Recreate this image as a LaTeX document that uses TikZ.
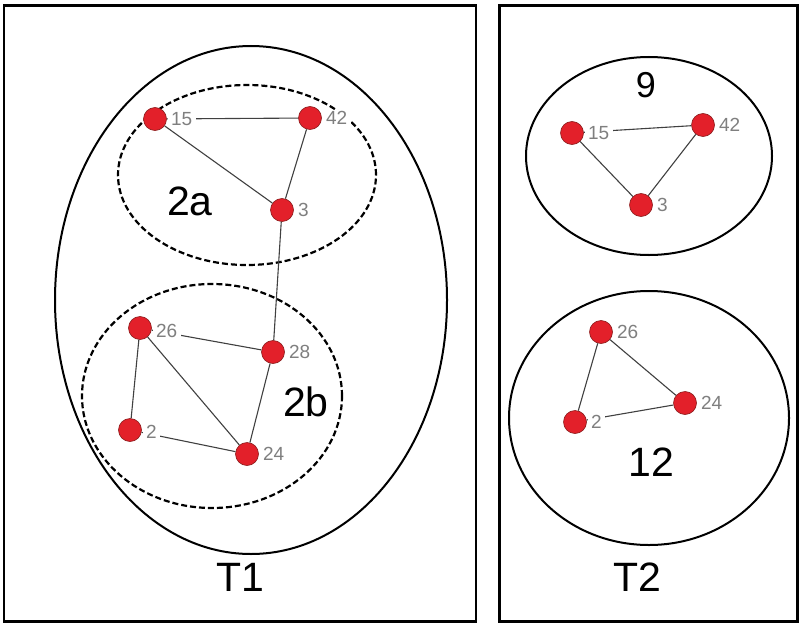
\documentclass[tikz,border=0pt]{standalone}
\usepackage{fontspec}
\setmainfont{Liberation Sans}
\usetikzlibrary{shapes.geometric}
\definecolor{dotred}{HTML}{E3202A}
\definecolor{dotedge}{HTML}{8A1A1A}
\definecolor{lblgrey}{HTML}{7F7F7F}
\definecolor{edgegrey}{HTML}{404040}
\tikzset{
  dot/.style={circle,fill=dotred,draw=dotedge,line width=0.6pt,minimum size=23pt,inner sep=0pt},
  lbl/.style={text=lblgrey,font=\fontsize{19}{19}\selectfont,fill=white,inner ysep=1pt,inner xsep=3.5pt,anchor=west,xshift=0.5pt},
  edge/.style={draw=edgegrey,line width=1.1pt},
  frame/.style={draw=black,line width=2.2pt},
  hull/.style={draw=black,line width=2pt},
  group/.style={draw=black,line width=2.2pt,dash pattern=on 6pt off 3pt},
  big/.style={font=\fontsize{41}{41}\selectfont,text=black,inner sep=0pt},
  mid/.style={font=\fontsize{36}{36}\selectfont,text=black,inner sep=0pt}
}
\begin{document}
\begin{tikzpicture}[x=1pt,y=-1pt]
\useasboundingbox (0,0) rectangle (800,626);
% frames
\node[frame,rectangle,minimum width=472pt,minimum height=616pt,inner sep=0pt] (T1box) at (240,313.5) {};
\node[frame,rectangle,minimum width=298pt,minimum height=616pt,inner sep=0pt] (T2box) at (648.5,313.5) {};
% hulls
\node[hull,ellipse,minimum width=392pt,minimum height=508pt,inner sep=0pt] (H1) at (251,300) {};
\node[group,ellipse,minimum width=258pt,minimum height=180pt,inner sep=0pt] (G2a) at (247,175) {};
\node[group,ellipse,minimum width=260pt,minimum height=224pt,inner sep=0pt] (G2b) at (212,396) {};
\node[hull,ellipse,minimum width=246pt,minimum height=198pt,inner sep=0pt] (C9) at (649,156) {};
\node[hull,ellipse,minimum width=280pt,minimum height=254pt,inner sep=0pt] (C12) at (649,418) {};
% left graph nodes
\node[dot] (a15) at (155,119) {};
\node[dot] (a42) at (310,118) {};
\node[dot] (a3) at (282,210) {};
\node[dot] (a26) at (140,328) {};
\node[dot] (a28) at (273,352) {};
\node[dot] (a2) at (130,430) {};
\node[dot] (a24) at (247,454) {};
% right graph nodes
\node[dot] (b15) at (572,133) {};
\node[dot] (b42) at (703,125) {};
\node[dot] (b3) at (641,205) {};
\node[dot] (c26) at (601,332) {};
\node[dot] (c2) at (575,422) {};
\node[dot] (c24) at (685,403) {};
% edges
\draw[edge] (a15) -- (a42);
\draw[edge] (a15) -- (a3);
\draw[edge] (a42) -- (a3);
\draw[edge] (a3) -- (a28);
\draw[edge] (a26) -- (a28);
\draw[edge] (a26) -- (a2);
\draw[edge] (a26) -- (a24);
\draw[edge] (a28) -- (a24);
\draw[edge] (a2) -- (a24);
\draw[edge] (b15) -- (b42);
\draw[edge] (b15) -- (b3);
\draw[edge] (b42) -- (b3);
\draw[edge] (c26) -- (c2);
\draw[edge] (c26) -- (c24);
\draw[edge] (c2) -- (c24);
% labels
\node[lbl] (l15) at (a15.east) {15};
\node[lbl] (l42) at (a42.east) {42};
\node[lbl] (l3) at (a3.east) {3};
\node[lbl] (l26) at ([yshift=-3pt]a26.east) {26};
\node[lbl] (l28) at (a28.east) {28};
\node[lbl] (l2) at ([yshift=-2pt]a2.east) {2};
\node[lbl] (l24) at (a24.east) {24};
\node[lbl] (m15) at (b15.east) {15};
\node[lbl] (m42) at (b42.east) {42};
\node[lbl] (m3) at (b3.east) {3};
\node[lbl] (n26) at (c26.east) {26};
\node[lbl] (n2) at (c2.east) {2};
\node[lbl] (n24) at (c24.east) {24};
% group labels
\node[big] (t2a) at (190,201.5) {2a};
\node[big] (t2b) at (306,402) {2b};
\node[mid] (t9) at (646,85.5) {9};
\node[big] (t12) at (651,462) {12};
\node[big] (tT1) at (240,577.5) {T1};
\node[big] (tT2) at (637,577.5) {T2};
\end{tikzpicture}
\end{document}
